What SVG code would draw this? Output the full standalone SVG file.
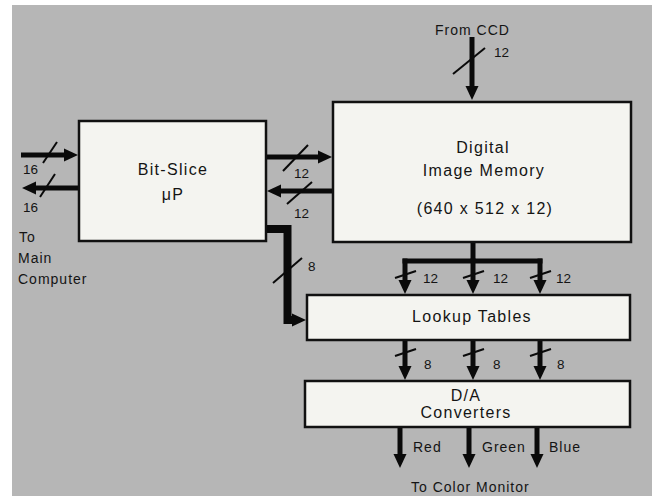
<svg xmlns="http://www.w3.org/2000/svg" width="652" height="496" viewBox="0 0 652 496">
  <style>
    .box { fill: #f4f4f0; stroke: #111; stroke-width: 2.5; }
    .lbl { font-family: "Liberation Sans", Arial, sans-serif; font-size: 16px; letter-spacing: 1.3px; fill: #141414; text-anchor: middle; }
    .sm { font-family: "Liberation Sans", Arial, sans-serif; font-size: 14px; letter-spacing: 1px; fill: #141414; }
    .num { font-family: "Liberation Sans", Arial, sans-serif; font-size: 13.5px; fill: #141414; }
    .bus { stroke: #0a0a0a; stroke-width: 5; fill: none; }
    .wide { stroke: #0a0a0a; stroke-width: 8; fill: none; }
    .sl { stroke: #0a0a0a; stroke-width: 2; fill: none; }
    .arr { marker-end: url(#ah); }
  </style>
  <defs>
    <marker id="ah" markerUnits="userSpaceOnUse" markerWidth="14" markerHeight="14" refX="5" refY="7" orient="auto">
      <path d="M0,0.5 L14,7 L0,13.5 z" fill="#0a0a0a"/>
    </marker>
  </defs>

  <rect x="0" y="0" width="652" height="496" fill="#ffffff"/>
  <rect x="12" y="5" width="640" height="491" fill="#b6b6b6"/>

  <g id="connectors">
    <!-- From CCD -->
    <line class="bus arr" x1="472" y1="37" x2="472" y2="91"/>
    <line class="sl" x1="453" y1="74" x2="485" y2="48"/>
    <!-- Main computer <-> Bit-slice -->
    <line class="bus arr" x1="21" y1="155" x2="69" y2="155"/>
    <line class="sl" x1="43" y1="163" x2="57" y2="142"/>
    <line class="bus arr" x1="79" y1="188" x2="31" y2="188"/>
    <line class="sl" x1="40" y1="197" x2="55" y2="174"/>
    <!-- Bit-slice <-> Memory -->
    <line class="bus arr" x1="266" y1="157" x2="323" y2="157"/>
    <line class="sl" x1="283" y1="171" x2="308" y2="145"/>
    <line class="bus arr" x1="333" y1="191" x2="276" y2="191"/>
    <line class="sl" x1="287" y1="204" x2="312" y2="182"/>
    <!-- Bit-slice -> Lookup -->
    <polyline class="wide" points="266,229 287.5,229 287.5,320 296,320" stroke-linejoin="miter"/>
    <line class="bus arr" x1="290" y1="320" x2="297" y2="320"/>
    <line class="sl" x1="273" y1="283" x2="302" y2="258"/>
    <!-- Memory -> Lookup -->
    <line class="bus" x1="473" y1="242" x2="473" y2="261"/>
    <line class="bus" x1="402.5" y1="261" x2="542.5" y2="261"/>
    <line class="bus arr" x1="405" y1="258.5" x2="405" y2="285"/>
    <line class="bus arr" x1="473" y1="258.5" x2="473" y2="285"/>
    <line class="bus arr" x1="540" y1="258.5" x2="540" y2="285"/>
    <line class="sl" x1="395" y1="278" x2="416" y2="271"/>
    <line class="sl" x1="463" y1="278" x2="484" y2="271"/>
    <line class="sl" x1="530" y1="278" x2="551" y2="271"/>
    <!-- Lookup -> D/A -->
    <line class="bus arr" x1="405" y1="340" x2="405" y2="371"/>
    <line class="bus arr" x1="473" y1="340" x2="473" y2="371"/>
    <line class="bus arr" x1="540" y1="340" x2="540" y2="371"/>
    <line class="sl" x1="395" y1="356" x2="416" y2="349"/>
    <line class="sl" x1="463" y1="356" x2="484" y2="349"/>
    <line class="sl" x1="530" y1="356" x2="551" y2="349"/>
    <!-- D/A -> monitor -->
    <line class="bus arr" x1="400" y1="427" x2="400" y2="459"/>
    <line class="bus arr" x1="469" y1="427" x2="469" y2="459"/>
    <line class="bus arr" x1="537" y1="427" x2="537" y2="459"/>
  </g>

  <g id="bitslice">
    <rect class="box" x="79" y="121" width="187" height="120"/>
    <text class="lbl" x="173" y="175">Bit-Slice</text>
    <text class="lbl" x="173" y="200">μP</text>
  </g>

  <g id="memory">
    <rect class="box" x="333" y="102" width="298" height="140"/>
    <text class="lbl" x="483" y="153">Digital</text>
    <text class="lbl" x="484" y="176">Image Memory</text>
    <text class="lbl" x="485" y="214">(640 x 512 x 12)</text>
  </g>

  <g id="lookup">
    <rect class="box" x="307" y="295" width="323" height="45"/>
    <text class="lbl" x="472" y="322">Lookup Tables</text>
  </g>

  <g id="dac">
    <rect class="box" x="305" y="381" width="325" height="46"/>
    <text class="lbl" x="466" y="401">D/A</text>
    <text class="lbl" x="466" y="418">Converters</text>
  </g>

  <g id="labels">
    <text class="sm" x="435" y="35">From CCD</text>
    <text class="num" x="494" y="57">12</text>
    <text class="num" x="23" y="174">16</text>
    <text class="num" x="23" y="212">16</text>
    <text class="sm" x="19" y="242">To</text>
    <text class="sm" x="18" y="263">Main</text>
    <text class="sm" x="18" y="284">Computer</text>
    <text class="num" x="294" y="178">12</text>
    <text class="num" x="294" y="218">12</text>
    <text class="num" x="308" y="271">8</text>
    <text class="num" x="423" y="283">12</text>
    <text class="num" x="493" y="283">12</text>
    <text class="num" x="556" y="283">12</text>
    <text class="num" x="424" y="369">8</text>
    <text class="num" x="493" y="369">8</text>
    <text class="num" x="557" y="369">8</text>
    <text class="sm" x="413" y="452">Red</text>
    <text class="sm" x="482" y="452">Green</text>
    <text class="sm" x="549" y="452">Blue</text>
    <text class="sm" x="411" y="492">To Color Monitor</text>
  </g>
</svg>
